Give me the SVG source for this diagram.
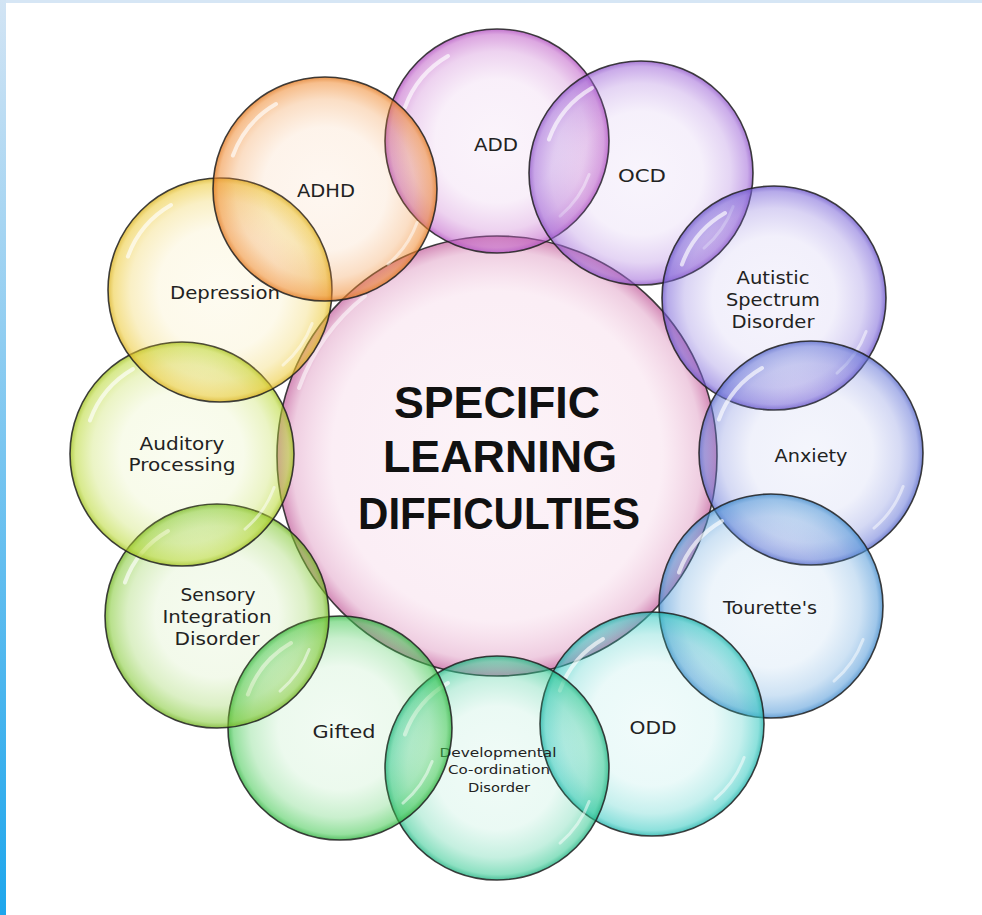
<svg xmlns="http://www.w3.org/2000/svg" xmlns:xlink="http://www.w3.org/1999/xlink" width="982" height="915" viewBox="0 0 982 915">
<style>
.bub{stroke:#1e1e1e;stroke-width:1.6;stroke-opacity:0.85}
.lbl{font-family:"DejaVu Sans","Liberation Sans",sans-serif;font-size:17px;fill:#222;text-anchor:middle}
.sm{font-size:13px}
.ttl{font-family:"Liberation Sans","DejaVu Sans",sans-serif;font-weight:bold;font-size:44px;fill:#111;text-anchor:middle}
.hl{fill:none;stroke:#fff;stroke-linecap:round}
</style>
<defs>
<linearGradient id="strip" x1="0" y1="0" x2="0" y2="1">
<stop offset="0" stop-color="#d2e4f4"/><stop offset="1" stop-color="#1ea6ec"/>
</linearGradient>
<radialGradient id="gC"><stop offset="0" stop-color="#e48cbc" stop-opacity="0.1"/><stop offset="0.75" stop-color="#e48cbc" stop-opacity="0.15"/><stop offset="0.93" stop-color="#d070a8" stop-opacity="0.35"/><stop offset="1" stop-color="#c05898" stop-opacity="0.7"/></radialGradient>
<radialGradient id="g1"><stop offset="0" stop-color="#c060c8" stop-opacity="0.07"/><stop offset="0.55" stop-color="#c060c8" stop-opacity="0.1"/><stop offset="0.8" stop-color="#c060c8" stop-opacity="0.28"/><stop offset="0.95" stop-color="#c060c8" stop-opacity="0.55"/><stop offset="1" stop-color="#b050c0" stop-opacity="0.8"/></radialGradient>
<radialGradient id="g2"><stop offset="0" stop-color="#a068d8" stop-opacity="0.07"/><stop offset="0.55" stop-color="#a068d8" stop-opacity="0.1"/><stop offset="0.8" stop-color="#a068d8" stop-opacity="0.28"/><stop offset="0.95" stop-color="#a068d8" stop-opacity="0.55"/><stop offset="1" stop-color="#9058c8" stop-opacity="0.8"/></radialGradient>
<radialGradient id="g3"><stop offset="0" stop-color="#7a64d8" stop-opacity="0.07"/><stop offset="0.55" stop-color="#7a64d8" stop-opacity="0.1"/><stop offset="0.8" stop-color="#7a64d8" stop-opacity="0.28"/><stop offset="0.95" stop-color="#7a64d8" stop-opacity="0.55"/><stop offset="1" stop-color="#6a54c8" stop-opacity="0.8"/></radialGradient>
<radialGradient id="g4"><stop offset="0" stop-color="#6878d8" stop-opacity="0.07"/><stop offset="0.55" stop-color="#6878d8" stop-opacity="0.1"/><stop offset="0.8" stop-color="#6878d8" stop-opacity="0.28"/><stop offset="0.95" stop-color="#6878d8" stop-opacity="0.55"/><stop offset="1" stop-color="#5868c8" stop-opacity="0.8"/></radialGradient>
<radialGradient id="g5"><stop offset="0" stop-color="#5098d8" stop-opacity="0.07"/><stop offset="0.55" stop-color="#5098d8" stop-opacity="0.1"/><stop offset="0.8" stop-color="#5098d8" stop-opacity="0.28"/><stop offset="0.95" stop-color="#5098d8" stop-opacity="0.55"/><stop offset="1" stop-color="#4088c8" stop-opacity="0.8"/></radialGradient>
<radialGradient id="g6"><stop offset="0" stop-color="#30c8c0" stop-opacity="0.07"/><stop offset="0.55" stop-color="#30c8c0" stop-opacity="0.1"/><stop offset="0.8" stop-color="#30c8c0" stop-opacity="0.28"/><stop offset="0.95" stop-color="#30c8c0" stop-opacity="0.55"/><stop offset="1" stop-color="#20b0a8" stop-opacity="0.8"/></radialGradient>
<radialGradient id="g7"><stop offset="0" stop-color="#30c890" stop-opacity="0.07"/><stop offset="0.55" stop-color="#30c890" stop-opacity="0.1"/><stop offset="0.8" stop-color="#30c890" stop-opacity="0.28"/><stop offset="0.95" stop-color="#30c890" stop-opacity="0.55"/><stop offset="1" stop-color="#20b080" stop-opacity="0.8"/></radialGradient>
<radialGradient id="g8"><stop offset="0" stop-color="#40c850" stop-opacity="0.07"/><stop offset="0.55" stop-color="#40c850" stop-opacity="0.1"/><stop offset="0.8" stop-color="#40c850" stop-opacity="0.28"/><stop offset="0.95" stop-color="#40c850" stop-opacity="0.55"/><stop offset="1" stop-color="#30b040" stop-opacity="0.8"/></radialGradient>
<radialGradient id="g9"><stop offset="0" stop-color="#80c830" stop-opacity="0.07"/><stop offset="0.55" stop-color="#80c830" stop-opacity="0.1"/><stop offset="0.8" stop-color="#80c830" stop-opacity="0.28"/><stop offset="0.95" stop-color="#80c830" stop-opacity="0.55"/><stop offset="1" stop-color="#70b020" stop-opacity="0.8"/></radialGradient>
<radialGradient id="g10"><stop offset="0" stop-color="#b8d830" stop-opacity="0.07"/><stop offset="0.55" stop-color="#b8d830" stop-opacity="0.1"/><stop offset="0.8" stop-color="#b8d830" stop-opacity="0.28"/><stop offset="0.95" stop-color="#b8d830" stop-opacity="0.55"/><stop offset="1" stop-color="#a0c020" stop-opacity="0.8"/></radialGradient>
<radialGradient id="g11"><stop offset="0" stop-color="#ecc830" stop-opacity="0.07"/><stop offset="0.55" stop-color="#ecc830" stop-opacity="0.1"/><stop offset="0.8" stop-color="#ecc830" stop-opacity="0.28"/><stop offset="0.95" stop-color="#ecc830" stop-opacity="0.55"/><stop offset="1" stop-color="#d8b020" stop-opacity="0.8"/></radialGradient>
<radialGradient id="g12"><stop offset="0" stop-color="#f08a30" stop-opacity="0.07"/><stop offset="0.55" stop-color="#f08a30" stop-opacity="0.1"/><stop offset="0.8" stop-color="#f08a30" stop-opacity="0.28"/><stop offset="0.95" stop-color="#f08a30" stop-opacity="0.55"/><stop offset="1" stop-color="#e07820" stop-opacity="0.8"/></radialGradient>
<g id="hl">
<path class="hl" d="M -92.1 -33.5 A 98 98 0 0 1 -49 -84.9" stroke-width="4" stroke-opacity="0.65"/>
<path class="hl" d="M 92.1 33.5 A 98 98 0 0 1 63 75.1" stroke-width="3" stroke-opacity="0.5"/>
</g>
</defs>
<rect width="982" height="915" fill="#fff"/>
<rect x="0" y="0" width="982" height="3" fill="#d6e6f5"/>
<rect x="0" y="0" width="6" height="915" fill="url(#strip)"/>

<g id="center">
<circle cx="497" cy="456" r="220" fill="url(#gC)" class="bub"/>
<path class="hl" d="M 299 388 A 208 208 0 0 1 365 296" stroke-width="4" stroke-opacity="0.55"/>
<text class="ttl" x="497" y="418" textLength="206" lengthAdjust="spacingAndGlyphs">SPECIFIC</text>
<text class="ttl" x="500" y="472" textLength="234" lengthAdjust="spacingAndGlyphs">LEARNING</text>
<text class="ttl" x="499" y="529" textLength="282" lengthAdjust="spacingAndGlyphs">DIFFICULTIES</text>
</g>

<g id="add"><circle cx="497" cy="141" r="112" fill="url(#g1)" class="bub"/><use href="#hl" x="497" y="141"/>
<text class="lbl" x="496" y="151" textLength="44" lengthAdjust="spacingAndGlyphs">ADD</text></g>
<g id="ocd"><circle cx="641" cy="173" r="112" fill="url(#g2)" class="bub"/><use href="#hl" x="641" y="173"/>
<text class="lbl" x="642" y="182" textLength="48" lengthAdjust="spacingAndGlyphs">OCD</text></g>
<g id="autistic"><circle cx="774" cy="298" r="112" fill="url(#g3)" class="bub"/><use href="#hl" x="774" y="298"/>
<text class="lbl" x="773" y="284" textLength="73" lengthAdjust="spacingAndGlyphs">Autistic</text>
<text class="lbl" x="773" y="306" textLength="94" lengthAdjust="spacingAndGlyphs">Spectrum</text>
<text class="lbl" x="773" y="328" textLength="83" lengthAdjust="spacingAndGlyphs">Disorder</text></g>
<g id="anxiety"><circle cx="811" cy="453" r="112" fill="url(#g4)" class="bub"/><use href="#hl" x="811" y="453"/>
<text class="lbl" x="811" y="462" textLength="73" lengthAdjust="spacingAndGlyphs">Anxiety</text></g>
<g id="tourette"><circle cx="771" cy="606" r="112" fill="url(#g5)" class="bub"/><use href="#hl" x="771" y="606"/>
<text class="lbl" x="770" y="614" textLength="94" lengthAdjust="spacingAndGlyphs">Tourette's</text></g>
<g id="odd"><circle cx="652" cy="724" r="112" fill="url(#g6)" class="bub"/><use href="#hl" x="652" y="724"/>
<text class="lbl" x="653" y="734" textLength="47" lengthAdjust="spacingAndGlyphs">ODD</text></g>
<g id="dcd"><circle cx="497" cy="768" r="112" fill="url(#g7)" class="bub"/><use href="#hl" x="497" y="768"/>
<text class="lbl sm" x="498" y="757" textLength="117" lengthAdjust="spacingAndGlyphs">Developmental</text>
<text class="lbl sm" x="499" y="774" textLength="102" lengthAdjust="spacingAndGlyphs">Co-ordination</text>
<text class="lbl sm" x="499" y="792" textLength="62" lengthAdjust="spacingAndGlyphs">Disorder</text></g>
<g id="gifted"><circle cx="340" cy="728" r="112" fill="url(#g8)" class="bub"/><use href="#hl" x="340" y="728"/>
<text class="lbl" x="344" y="738" textLength="63" lengthAdjust="spacingAndGlyphs">Gifted</text></g>
<g id="sensory"><circle cx="217" cy="616" r="112" fill="url(#g9)" class="bub"/><use href="#hl" x="217" y="616"/>
<text class="lbl" x="218" y="601" textLength="75" lengthAdjust="spacingAndGlyphs">Sensory</text>
<text class="lbl" x="217" y="623" textLength="109" lengthAdjust="spacingAndGlyphs">Integration</text>
<text class="lbl" x="217" y="645" textLength="85" lengthAdjust="spacingAndGlyphs">Disorder</text></g>
<g id="auditory"><circle cx="182" cy="454" r="112" fill="url(#g10)" class="bub"/><use href="#hl" x="182" y="454"/>
<text class="lbl" x="182" y="450" textLength="85" lengthAdjust="spacingAndGlyphs">Auditory</text>
<text class="lbl" x="182" y="471" textLength="107" lengthAdjust="spacingAndGlyphs">Processing</text></g>
<g id="depression"><circle cx="220" cy="290" r="112" fill="url(#g11)" class="bub"/><use href="#hl" x="220" y="290"/>
<text class="lbl" x="225" y="299" textLength="110" lengthAdjust="spacingAndGlyphs">Depression</text></g>
<g id="adhd"><circle cx="325" cy="189" r="112" fill="url(#g12)" class="bub"/><use href="#hl" x="325" y="189"/>
<text class="lbl" x="326" y="197" textLength="58" lengthAdjust="spacingAndGlyphs">ADHD</text></g>

<g id="connectors"/>
</svg>
